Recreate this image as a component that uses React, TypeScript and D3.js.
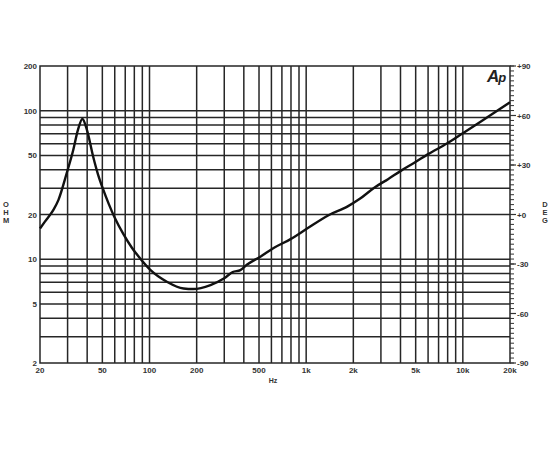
import React from "react";
import * as d3 from "d3";

const freqs = [20, 21.5, 24.3, 26.2, 29.6, 32.6, 34.9, 37.3, 39.9, 43.7, 47, 50.6, 55, 60, 68, 77, 88, 102, 129, 165, 190, 245, 300, 340, 380, 420, 510, 620, 800, 1025, 1380, 1830, 2200, 2720, 3330, 4040, 4900, 6000, 7960, 10000, 12900, 20000];
const impedance = [16.1, 17.9, 21.4, 25, 37.9, 54.4, 74, 88, 74, 49, 37, 29.5, 23.5, 19, 14.8, 12, 10, 8.4, 7.05, 6.35, 6.3, 6.7, 7.44, 8.2, 8.45, 9.2, 10.4, 11.9, 13.7, 16.2, 19.7, 22.6, 25.5, 30.3, 34.6, 39.5, 44.6, 51, 60.3, 70.5, 84, 114];

const xTickValues = [20, 50, 100, 200, 500, 1000, 2000, 5000, 10000, 20000];
const xTickLabels = ["20", "50", "100", "200", "500", "1k", "2k", "5k", "10k", "20k"];
const yTickValues = [2, 5, 10, 20, 50, 100, 200];
const yTickLabels = ["2", "5", "10", "20", "50", "100", "200"];
const phaseTickValues = [-90, -60, -30, 0, 30, 60, 90];
const phaseTickLabels = ["-90", "-60", "-30", "+0", "+30", "+60", "+90"];

const gridFreqs = [30, 40, 50, 60, 70, 80, 90, 100, 200, 300, 400, 500, 600, 700, 800, 900, 1000, 2000, 3000, 4000, 5000, 6000, 7000, 8000, 9000, 10000];
const gridOhms = [3, 4, 5, 6, 7, 8, 9, 10, 20, 30, 40, 50, 60, 70, 80, 90, 100];

const L = 40, R = 510, T = 66, B = 363;

export default function App() {
  const x = d3.scaleLog().domain([20, 20000]).range([L, R]);
  const y = d3.scaleLog().domain([2, 200]).range([B, T]);
  const yp = d3.scaleLinear().domain([-90, 90]).range([B, T]);
  const minorPhase = d3.range(-90, 90.01, 3);

  const line = d3
    .line<number>()
    .x((_, i) => x(freqs[i]))
    .y((d) => y(d))
    .curve(d3.curveMonotoneX);

  const font = "'Liberation Sans', Arial, sans-serif";
  const gridColor = "#262626";

  return (
    <svg
      width={550}
      height={450}
      style={{ position: "absolute", left: 0, top: 0, background: "#fff" }}
    >
      <rect x={0} y={0} width={550} height={450} fill="#fff" />
      {gridFreqs.map((f) => (
        <line key={"vf" + f} x1={x(f)} x2={x(f)} y1={T} y2={B} stroke={gridColor} strokeWidth={1.5} />
      ))}
      {gridOhms.map((v) => (
        <line key={"ho" + v} x1={L} x2={R} y1={y(v)} y2={y(v)} stroke={gridColor} strokeWidth={1.5} />
      ))}
      <rect x={L} y={T} width={R - L} height={B - T} fill="none" stroke={gridColor} strokeWidth={1.5} />

      {minorPhase.map((p) => (
        <line key={"mp" + p} x1={R} x2={R + 4} y1={yp(p)} y2={yp(p)} stroke="#333" strokeWidth={1} />
      ))}
      {phaseTickValues.map((p, i) => (
        <g key={"pt" + p}>
          <line x1={R} x2={R + 6} y1={yp(p)} y2={yp(p)} stroke="#333" strokeWidth={1.2} />
          <text x={R + 7} y={yp(p) + 3} fontSize={8} fontWeight="bold" fontFamily={font} fill="#333">
            {phaseTickLabels[i]}
          </text>
        </g>
      ))}

      {yTickValues.map((v, i) => (
        <text key={"yl" + v} x={L - 3} y={y(v) + 3} textAnchor="end" fontSize={8} fontWeight="bold" fontFamily={font} fill="#333">
          {yTickLabels[i]}
        </text>
      ))}
      {xTickValues.map((f, i) => (
        <text key={"xl" + f} x={x(f)} y={B + 10} textAnchor="middle" fontSize={8} fontWeight="bold" fontFamily={font} fill="#333">
          {xTickLabels[i]}
        </text>
      ))}
      <text x={273} y={383} textAnchor="middle" fontSize={7} fontWeight="bold" fontFamily={font} fill="#333">Hz</text>

      {["O", "H", "M"].map((c, i) => (
        <text key={"o" + i} x={6} y={207 + i * 8} textAnchor="middle" fontSize={7.5} fontWeight="bold" fontFamily={font} fill="#333">{c}</text>
      ))}
      {["D", "E", "G"].map((c, i) => (
        <text key={"d" + i} x={545} y={207 + i * 8} textAnchor="middle" fontSize={7.5} fontWeight="bold" fontFamily={font} fill="#333">{c}</text>
      ))}

      <text x={487} y={82} fontSize={17} fontWeight="bold" fontStyle="italic" fontFamily={font} fill="#222" letterSpacing={-1}>
        A<tspan fontSize={13}>p</tspan>
      </text>

      <path d={line(impedance) || ""} fill="none" stroke="#111" strokeWidth={2.4} strokeLinejoin="round" />
    </svg>
  );
}
